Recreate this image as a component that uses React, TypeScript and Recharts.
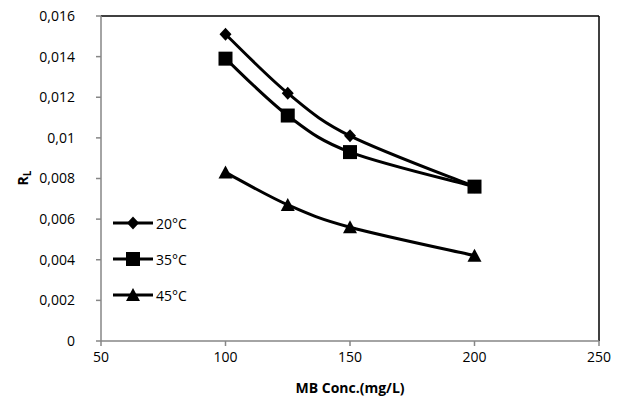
import React from 'react'
import { LineChart, Line, XAxis, YAxis, Legend, ReferenceLine, Label } from 'recharts'

const concentrations = [100, 125, 150, 200]
const rl20 = [0.0151, 0.0122, 0.0101, 0.0076]
const rl35 = [0.0139, 0.0111, 0.0093, 0.0076]
const rl45 = [0.0083, 0.0067, 0.0056, 0.0042]
const xTicks = [50, 100, 150, 200, 250]
const yTicks = [0, 0.002, 0.004, 0.006, 0.008, 0.01, 0.012, 0.014, 0.016]

const data = concentrations.map((c, i) => ({ conc: c, t20: rl20[i], t35: rl35[i], t45: rl45[i] }))

const FONT = '"Open Sans", sans-serif'
const AXIS_GRAY = '#868686'

// Excel-style smoothed line (Catmull-Rom, 1/6 tangents)
const excelCurve = (context: any) => {
  let pts: number[][] = []
  return {
    areaStart() {},
    areaEnd() {},
    lineStart() {
      pts = []
    },
    point(x: number, y: number) {
      pts.push([+x, +y])
    },
    lineEnd() {
      if (!pts.length) return
      context.moveTo(pts[0][0], pts[0][1])
      for (let i = 0; i < pts.length - 1; i++) {
        const p0 = pts[i - 1] || pts[i]
        const p1 = pts[i]
        const p2 = pts[i + 1]
        const p3 = pts[i + 2] || pts[i + 1]
        context.bezierCurveTo(
          p1[0] + (p2[0] - p0[0]) / 6,
          p1[1] + (p2[1] - p0[1]) / 6,
          p2[0] - (p3[0] - p1[0]) / 6,
          p2[1] - (p3[1] - p1[1]) / 6,
          p2[0],
          p2[1]
        )
      }
    },
  }
}

type Shape = 'diamond' | 'square' | 'triangle'

function markerPath(shape: Shape, cx: number, cy: number) {
  if (shape === 'diamond') return `M${cx},${cy - 6.5}L${cx + 6},${cy}L${cx},${cy + 6.5}L${cx - 6},${cy}Z`
  if (shape === 'square') return `M${cx - 7},${cy - 7}h14v14h-14Z`
  return `M${cx},${cy - 7}L${cx + 7},${cy + 6}L${cx - 7},${cy + 6}Z`
}

const makeDot = (shape: Shape) => (props: any) => {
  const { cx, cy, index } = props
  if (cx == null || cy == null) return <g key={index} />
  return <path key={index} d={markerPath(shape, cx, cy)} fill="#000" />
}

const series: { key: string; name: string; shape: Shape }[] = [
  { key: 't20', name: '20°C', shape: 'diamond' },
  { key: 't35', name: '35°C', shape: 'square' },
  { key: 't45', name: '45°C', shape: 'triangle' },
]

function LegendBox() {
  return (
    <div style={{ fontFamily: FONT, fontSize: 14, color: '#000' }}>
      {series.map((s) => (
        <div key={s.key} style={{ display: 'flex', alignItems: 'center', height: 36 }}>
          <svg width={43} height={16} style={{ display: 'block' }}>
            <line x1={0} y1={8} x2={40} y2={8} stroke="#000" strokeWidth={3} />
            <path d={markerPath(s.shape, 20, 8)} fill="#000" />
          </svg>
          <span>{s.name}</span>
        </div>
      ))}
    </div>
  )
}

const fmt = (v: number) => (v === 0 ? '0' : String(v).replace('.', ','))

export default function App() {
  return (
    <div style={{ position: 'absolute', left: 0, top: 0, width: 618, height: 410, background: '#fff' }}>
      <LineChart width={618} height={410} data={data} margin={{ top: 16, right: 19, left: 0, bottom: 0 }}>
        <XAxis
          dataKey="conc"
          type="number"
          domain={[50, 250]}
          ticks={xTicks}
          height={69}
          stroke={AXIS_GRAY}
          strokeWidth={1.5}
          tickSize={5}
          tickMargin={6}
          tick={{ fill: '#000', fontSize: 14, fontFamily: FONT }}
        >
          <Label
            value="MB Conc.(mg/L)"
            position="insideBottom"
            offset={17}
            style={{ fill: '#000', fontSize: 14, fontWeight: 'bold', fontFamily: FONT }}
          />
        </XAxis>
        <YAxis
          type="number"
          domain={[0, 0.016]}
          ticks={yTicks}
          width={101}
          stroke={AXIS_GRAY}
          strokeWidth={1.5}
          tickSize={5}
          tickMargin={21}
          tickFormatter={fmt}
          tick={{ fill: '#000', fontSize: 14, fontFamily: FONT }}
        />
        <ReferenceLine y={0.016} stroke="#000" strokeWidth={1.5} ifOverflow="visible" />
        <ReferenceLine x={250} stroke="#000" strokeWidth={1.5} ifOverflow="visible" />
        <Legend
          layout="horizontal"
          verticalAlign="middle"
          align="center"
          content={() => <LegendBox />}
          wrapperStyle={{ left: 113, top: 205, width: 90 }}
        />
        {series.map((s) => (
          <Line
            key={s.key}
            dataKey={s.key}
            name={s.name}
            type={excelCurve as any}
            stroke="#000"
            strokeWidth={3}
            dot={makeDot(s.shape)}
            activeDot={false}
            isAnimationActive={false}
          />
        ))}
      </LineChart>
      <div
        style={{
          position: 'absolute',
          left: 24,
          top: 178,
          transform: 'translate(-50%, -50%) rotate(-90deg)',
          fontFamily: FONT,
          fontSize: 14,
          fontWeight: 'bold',
          whiteSpace: 'nowrap',
          lineHeight: 1,
        }}
      >
        R<sub style={{ fontSize: 10 }}>L</sub>
      </div>
    </div>
  )
}
